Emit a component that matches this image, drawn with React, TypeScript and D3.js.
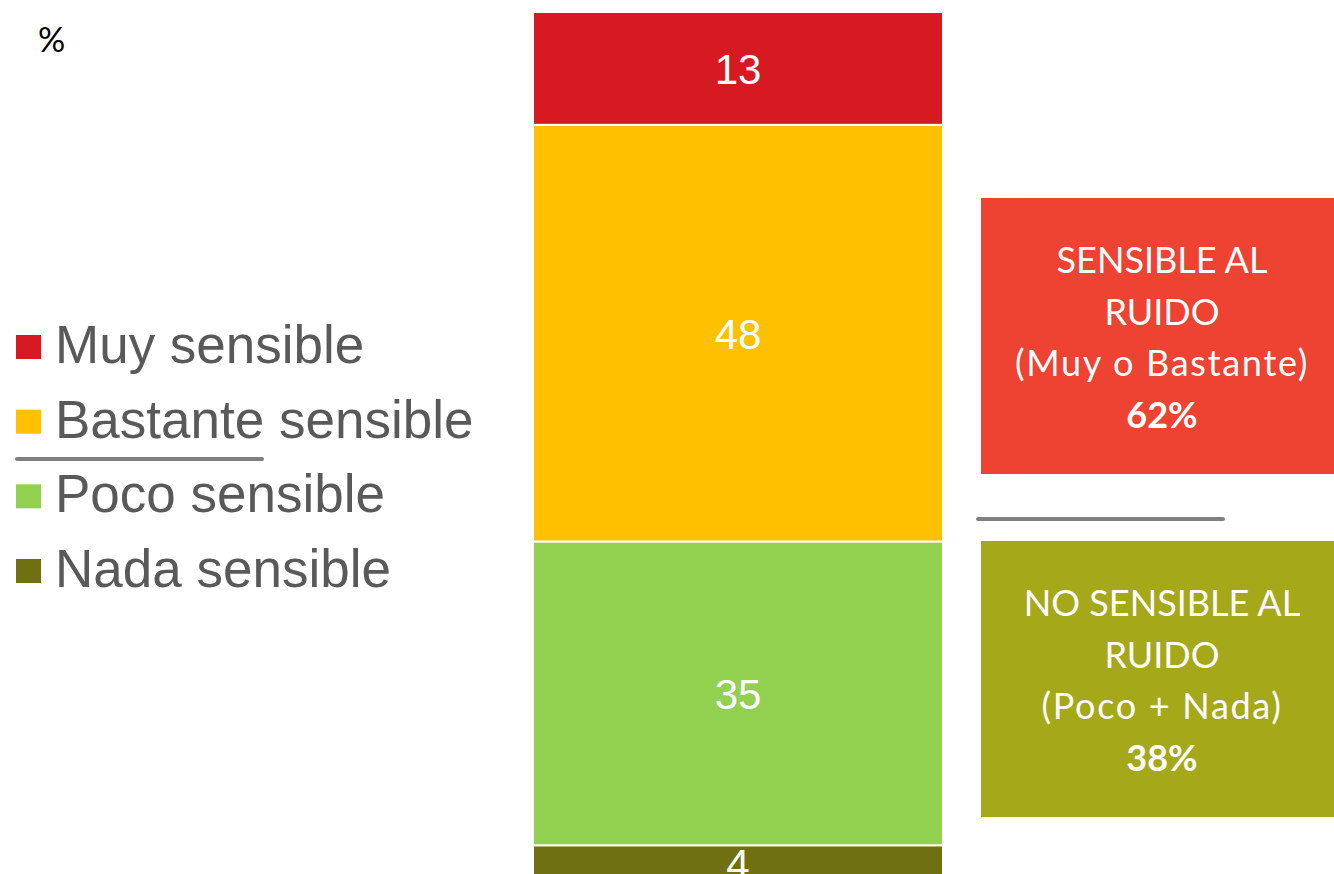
import React from 'react';
import * as d3 from 'd3';

const W = 1334;
const H = 874;

// categories from top of the bar to bottom
const categories = ['Muy sensible', 'Bastante sensible', 'Poco sensible', 'Nada sensible'];
const values = [13, 48, 35, 4];
const colors = ['#D71A21', '#FFC000', '#92D050', '#6E7011'];

const groupLines = [
  ['SENSIBLE AL', 'RUIDO', '(Muy o Bastante)', '62%'],
  ['NO SENSIBLE AL', 'RUIDO', '(Poco + Nada)', '38%'],
];
const groupColors = ['#EE4232', '#A5A919'];

const App = () => {
  const y = d3.scaleLinear().domain([0, 100]).range([880, 12]);
  const x = d3.scaleBand().domain(['total']).range([533, 943]).padding(0);

  // stack from bottom (Nada) upwards
  const row: Record<string, number> = {};
  categories.forEach((c, i) => (row[c] = values[i]));
  const series = d3.stack<Record<string, number>>().keys([...categories].reverse())([row]);

  const legendY = d3.scalePoint().domain(categories).range([347, 571]);

  return (
    <svg width={W} height={H} style={{ position: 'absolute', left: 0, top: 0 }}>
      <text x={38} y={52} fontFamily="Lato" fontSize={34} fill="#000">%</text>

      {series.map((s) => {
        const i = categories.indexOf(s.key);
        const d = s[0];
        const y0 = y(d[1]);
        const y1 = y(d[0]);
        return (
          <g key={s.key}>
            <rect x={x('total')} y={y0} width={x.bandwidth()} height={y1 - y0}
              fill={colors[i]} stroke="#fff" strokeWidth={2} />
            <text x={x('total')! + x.bandwidth() / 2} y={(y0 + y1) / 2} dy="0.38em"
              textAnchor="middle" fontFamily="Liberation Sans, Arial" fontSize={42} fill="#fff">
              {values[i]}
            </text>
          </g>
        );
      })}

      {categories.map((c, i) => (
        <g key={c} transform={`translate(0,${legendY(c)})`}>
          <rect x={16} y={-12} width={25} height={24} fill={colors[i]} />
          <text x={55} y={16} fontFamily="Liberation Sans, Arial" fontSize={53} fill="#595959">{c}</text>
        </g>
      ))}
      <line x1={17} x2={262} y1={459} y2={459} stroke="#808080" strokeWidth={4} strokeLinecap="round" />
      <line x1={978} x2={1223} y1={519} y2={519} stroke="#808080" strokeWidth={4} strokeLinecap="round" />

      {groupLines.map((lines, gi) => {
        const top = gi === 0 ? 198 : 541;
        return (
          <g key={gi}>
            <rect x={981} y={top} width={362} height={276} fill={groupColors[gi]} />
            {lines.map((t, li) => (
              <text key={li} x={1162} y={top + 75 + li * 51.5} textAnchor="middle"
                fontFamily="Lato" fontSize={36} fill="#fff" fontWeight={li === 3 ? 700 : 400}
                letterSpacing={li === 2 ? 1.7 : 0}>
                {t}
              </text>
            ))}
          </g>
        );
      })}
    </svg>
  );
};

export default App;
